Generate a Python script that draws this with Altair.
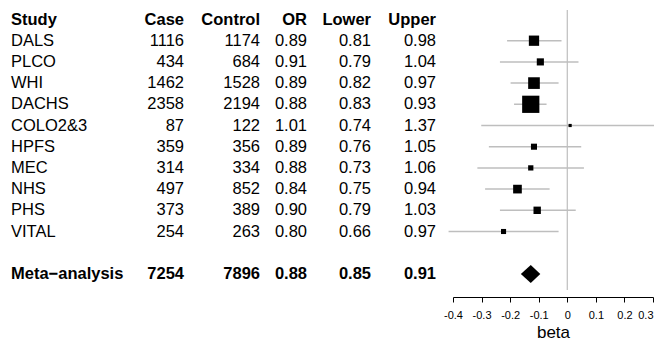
import math
import altair as alt
import pandas as pd

# ---- data ----
studies = ["DALS", "PLCO", "WHI", "DACHS", "COLO2&3", "HPFS", "MEC", "NHS", "PHS", "VITAL"]
cases = [1116, 434, 1462, 2358, 87, 359, 314, 497, 373, 254]
controls = [1174, 684, 1528, 2194, 122, 356, 334, 852, 389, 263]
odds_ratios = [0.89, 0.91, 0.89, 0.88, 1.01, 0.89, 0.88, 0.84, 0.90, 0.80]
lowers = [0.81, 0.79, 0.82, 0.83, 0.74, 0.76, 0.73, 0.75, 0.79, 0.66]
uppers = [0.98, 1.04, 0.97, 0.93, 1.37, 1.05, 1.06, 0.94, 1.03, 0.97]

meta_label = "Meta\u2212analysis"
meta_case = 7254
meta_control = 7896
meta_or = 0.88
meta_lower = 0.85
meta_upper = 0.91

headers = ["Study", "Case", "Control", "OR", "Lower", "Upper"]
x_ticks = [-0.4, -0.3, -0.2, -0.1, 0.0, 0.1, 0.2, 0.3]
ref_value = [0.0]

# ---- derived tables ----
HEADER_ROW = -1
META_ROW = len(studies) + 1

rows = []
for i, s in enumerate(studies):
    lo, hi = math.log(lowers[i]), math.log(uppers[i])
    se = (hi - lo) / (2 * 1.96)
    rows.append(dict(row=i, beta=math.log(odds_ratios[i]), lo=lo, hi=hi,
                     area=(0.5 / se) ** 2))
est = pd.DataFrame(rows)

m_lo, m_est, m_hi = math.log(meta_lower), math.log(meta_or), math.log(meta_upper)
half = 0.425
diamond = pd.DataFrame({
    "beta": [m_lo, m_est, m_hi],
    "top": [META_ROW, META_ROW - half, META_ROW],
    "bot": [META_ROW, META_ROW + half, META_ROW],
})

ref = pd.DataFrame({"beta": ref_value, "y1": [HEADER_ROW - 0.45], "y2": [META_ROW + 0.76]})

text_rows = []
for h in headers:
    text_rows.append(dict(col=h, row=HEADER_ROW, label=h, w="bold"))
for i, s in enumerate(studies):
    vals = [s, str(cases[i]), str(controls[i]), f"{odds_ratios[i]:.2f}",
            f"{lowers[i]:.2f}", f"{uppers[i]:.2f}"]
    for c, v in zip(headers, vals):
        text_rows.append(dict(col=c, row=i, label=v, w="normal"))
meta_vals = [meta_label, str(meta_case), str(meta_control), f"{meta_or:.2f}",
             f"{meta_lower:.2f}", f"{meta_upper:.2f}"]
for c, v in zip(headers, meta_vals):
    text_rows.append(dict(col=c, row=META_ROW, label=v, w="bold"))
tdf = pd.DataFrame(text_rows)

# ---- layout ----
FONT = "Liberation Sans"
FS = 16.5
GREY = "#bebebe"
W, H = 646, 289
ROW_PX = 21.2
HEAD_Y = 11.5
col_x = {"Study": 3, "Case": 176, "Control": 252, "OR": 299, "Lower": 363, "Upper": 428}
col_align = {"Study": "left", "Case": "right", "Control": "right", "OR": "right",
             "Lower": "right", "Upper": "right"}

ydom = [-1 - HEAD_Y / ROW_PX, -1 + (H - HEAD_Y) / ROW_PX]
yscale = alt.Scale(domain=ydom, reverse=True, nice=False, zero=False)
xscale = alt.Scale(domain=[-0.4, 0.3], range=[445, 645], nice=False, zero=False)

y_row = alt.Y("row:Q", scale=yscale, axis=None)

x_axis = alt.Axis(values=x_ticks, grid=False, title="beta",
                  labelExpr="toString(round(datum.value*10)/10)",
                  labelAlign={"condition": {"test": "datum.value > 0.25", "value": "right"},
                              "value": "center"},
                  tickSize=5, labelPadding=7, titlePadding=4,
                  labelFontSize=11, titleFontSize=17, titleFontWeight="normal",
                  labelFont=FONT, titleFont=FONT, domainColor="black",
                  tickColor="black", labelColor="black", titleColor="black",
                  domainWidth=1, tickWidth=1, labelFlush=False)

zero_line = alt.Chart(ref).mark_rule(color=GREY, strokeWidth=1.2).encode(
    x=alt.X("beta:Q", scale=xscale, axis=x_axis),
    y=alt.Y("y1:Q", scale=yscale, axis=None),
    y2="y2:Q",
)

ci = alt.Chart(est).mark_rule(color=GREY, strokeWidth=1.5).encode(
    x=alt.X("lo:Q", scale=xscale),
    x2="hi:Q",
    y=y_row,
)

boxes = alt.Chart(est).mark_square(color="black", filled=True, opacity=1).encode(
    x=alt.X("beta:Q", scale=xscale),
    y=y_row,
    size=alt.Size("area:Q", scale=None, legend=None),
)

dia = alt.Chart(diamond).mark_area(color="black", orient="vertical", opacity=1).encode(
    x=alt.X("beta:Q", scale=xscale),
    y=alt.Y("top:Q", scale=yscale, axis=None),
    y2="bot:Q",
)

text_layers = []
for c in headers:
    for w in ["normal", "bold"]:
        text_layers.append(
            alt.Chart(tdf).transform_filter(
                (alt.datum.col == c) & (alt.datum.w == w)
            ).mark_text(align=col_align[c], baseline="middle", font=FONT,
                        fontSize=FS, fontWeight=w, color="black").encode(
                x=alt.value(col_x[c]),
                y=y_row,
                text="label:N",
            )
        )

chart = alt.layer(zero_line, ci, boxes, dia, *text_layers).properties(
    width=W, height=H, background="white",
    padding={"left": 0, "top": 0, "right": 0, "bottom": 334 - H},
    autosize=alt.AutoSizeParams(type="none"),
).configure_view(stroke=None)

chart.save("out.html", embed_options={"renderer": "svg", "actions": False})
